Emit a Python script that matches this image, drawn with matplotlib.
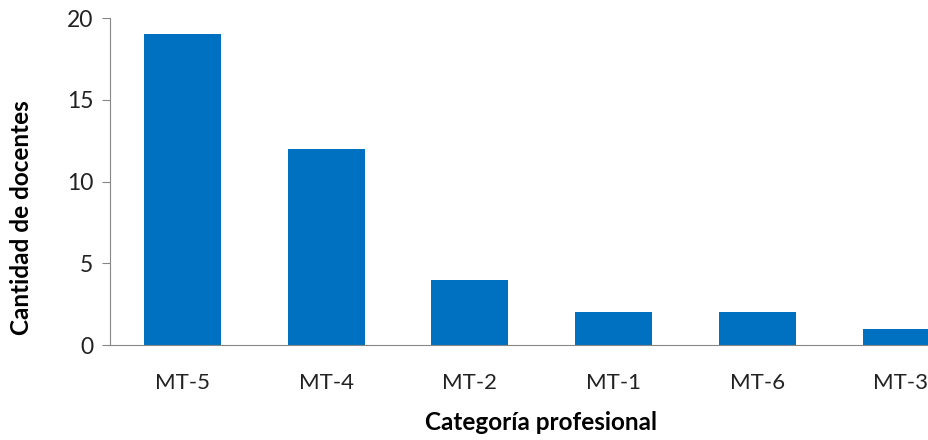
import matplotlib
matplotlib.use('Agg')
from matplotlib import pyplot as plt

categorias = ['MT-5', 'MT-4', 'MT-2', 'MT-1', 'MT-6', 'MT-3']
docentes = [19, 12, 4, 2, 2, 1]
yticks = [0, 5, 10, 15, 20]

plt.rcParams['font.family'] = ['Lato', 'DejaVu Sans']

fig = plt.figure(figsize=(9.29, 4.40), dpi=100)
ax = fig.add_axes([110 / 929, 1 - 345 / 440, 1 - 110 / 929, (345 - 18) / 440])

x = list(range(len(categorias)))
ax.bar(x, docentes, width=0.535, color='#0070C0', zorder=2)

ax.set_xlim(-0.505, 5.195)
ax.set_ylim(0, 20)
ax.set_yticks(yticks)
ax.set_xticks(x)
ax.set_xticklabels(categorias)

axis_gray = '#868686'
for side in ('top', 'right'):
    ax.spines[side].set_visible(False)
ax.spines['left'].set_color(axis_gray)
ax.spines['bottom'].set_color(axis_gray)
ax.tick_params(axis='y', direction='out', length=6, width=0.8, color=axis_gray,
               pad=6, labelsize=16.5, labelcolor='#222222')
ax.tick_params(axis='x', length=0, pad=20, labelsize=16, labelcolor='#222222')

ax.set_xlabel('Categoría profesional', fontsize=17.5, fontweight='bold')
ax.set_ylabel('Cantidad de docentes', fontsize=17.5, fontweight='bold')
ax.xaxis.set_label_coords((541 - 110) / (929 - 110), -(423 - 345) / 327)
ax.yaxis.set_label_coords(-(110 - 22) / 819, (345 - 218) / 327)
ax.xaxis.label.set_va('center')
ax.yaxis.label.set_va('center')

fig.savefig('out.png', dpi=100)
